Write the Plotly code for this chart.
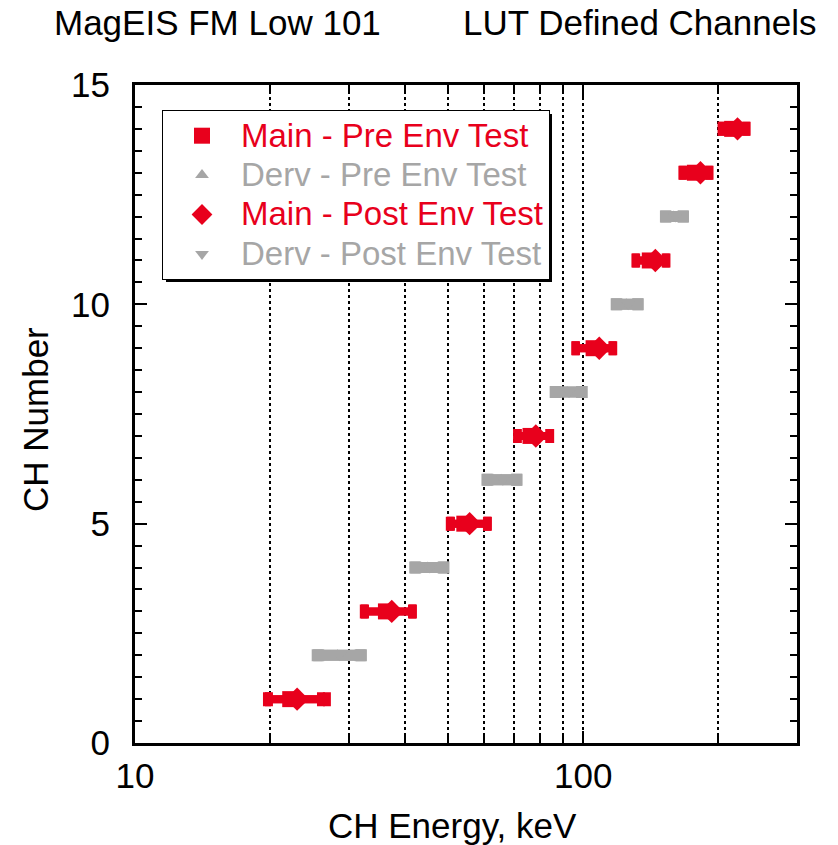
import math
import plotly.graph_objects as go

# Canvas and plot-area geometry (pixels)
W, H = 838, 845
ML, MR, MT, MB = 135, 41, 85, 102
PW, PH = W - ML - MR, H - MT - MB

RED = "#E8001C"
GRAY = "#A6A6A6"
FONT = "Liberation Sans, Arial, sans-serif"

# Main (odd + top) channels: centre energy and low/high edges, keV
main_ch = [1, 3, 5, 7, 9, 11, 13, 14]
main_pre_mid = [22.2, 36.3, 54.3, 76.3, 105.5, 140.8, 177.5, 215.0]
main_pre_lo = [19.7, 32.4, 50.4, 71.2, 96.0, 130.8, 166.5, 203.6]
main_pre_hi = [26.0, 41.7, 61.3, 84.4, 116.7, 153.4, 191.4, 231.6]
main_post_mid = [23.0, 37.4, 55.8, 78.4, 108.6, 144.9, 182.7, 221.0]
main_post_lo = [19.9, 32.6, 50.7, 71.5, 96.4, 131.3, 167.2, 204.5]
main_post_hi = [26.8, 41.5, 61.0, 84.0, 116.2, 152.8, 190.6, 230.8]

# Derived (even) channels
derv_ch = [2, 4, 6, 8, 10, 12]
derv_pre_mid = [28.3, 45.0, 65.6, 92.1, 124.8, 159.0]
derv_pre_lo = [25.5, 42.1, 61.0, 86.6, 118.5, 152.6]
derv_pre_hi = [32.0, 48.9, 71.2, 99.5, 132.7, 167.4]
derv_post_mid = [28.6, 45.5, 66.2, 93.0, 126.0, 160.6]
derv_post_lo = [25.7, 42.3, 61.3, 86.9, 118.9, 153.0]
derv_post_hi = [31.8, 48.7, 71.0, 99.2, 132.3, 167.0]


def span(mid, lo, hi):
    return dict(
        type="data",
        symmetric=False,
        array=[h - m for m, h in zip(mid, hi)],
        arrayminus=[m - l for m, l in zip(mid, lo)],
    )


def px(x):
    return (x - ML) / PW


def py(y):
    return (H - MB - y) / PH


def coloured(text, colour):
    return f"<span style='color:{colour};font-size:33px'>{text}</span>"


fig = go.Figure()

fig.add_trace(go.Scatter(
    x=main_pre_mid, y=main_ch, mode="markers",
    name=coloured("Main - Pre Env Test", RED),
    marker=dict(symbol="square", size=16, color=RED, line=dict(width=0)),
    error_x=dict(**span(main_pre_mid, main_pre_lo, main_pre_hi),
                 color=RED, thickness=8, width=7),
))
fig.add_trace(go.Scatter(
    x=derv_pre_mid, y=derv_ch, mode="markers",
    name=coloured("Derv - Pre Env Test", GRAY),
    marker=dict(symbol="triangle-up", size=12, color=GRAY, line=dict(width=0)),
    error_x=dict(**span(derv_pre_mid, derv_pre_lo, derv_pre_hi),
                 color=GRAY, thickness=11, width=6),
))
fig.add_trace(go.Scatter(
    x=main_post_mid, y=main_ch, mode="markers",
    name=coloured("Main - Post Env Test", RED),
    marker=dict(symbol="diamond", size=18, color=RED, line=dict(width=0)),
    error_x=dict(**span(main_post_mid, main_post_lo, main_post_hi),
                 color=RED, thickness=8, width=7),
))
fig.add_trace(go.Scatter(
    x=derv_post_mid, y=derv_ch, mode="markers",
    name=coloured("Derv - Post Env Test", GRAY),
    marker=dict(symbol="triangle-down", size=12, color=GRAY, line=dict(width=0)),
    error_x=dict(**span(derv_post_mid, derv_post_lo, derv_post_hi),
                 color=GRAY, thickness=11, width=6),
))

axis_common = dict(
    showline=True, linecolor="black", linewidth=3, mirror="allticks",
    ticks="inside", tickcolor="black", tickwidth=2,
    tickfont=dict(family=FONT, size=35, color="black"),
    zeroline=False,
)

fig.update_xaxes(
    type="log", range=[1, math.log10(300)], dtick=1,
    ticklen=12, ticklabelstandoff=0,
    showgrid=True, gridcolor="black", gridwidth=2, griddash="dot",
    minor=dict(dtick="D1", ticks="inside", ticklen=8, tickwidth=1.5, tickcolor="black",
               showgrid=True, gridcolor="black", gridwidth=2, griddash="dot"),
    **axis_common,
)
fig.update_yaxes(
    range=[0, 15], dtick=5, ticklen=12, ticklabelstandoff=15,
    showgrid=False,
    minor=dict(dtick=0.5, ticks="inside", ticklen=7, tickwidth=2, tickcolor="black",
               showgrid=False),
    **axis_common,
)

# Legend box with a drop shadow behind it
LEG_X0, LEG_Y0, LEG_W, LEG_H = 162, 110, 386, 168
fig.add_shape(type="rect", xref="paper", yref="paper", layer="above",
              x0=px(LEG_X0 + 4), x1=px(LEG_X0 + LEG_W + 4),
              y0=py(LEG_Y0 + LEG_H + 4), y1=py(LEG_Y0 + 4),
              fillcolor="black", line=dict(width=0))

annotations = [
    dict(text="MagEIS FM Low 101", x=px(52), y=py(22), xanchor="left", yanchor="middle"),
    dict(text="LUT Defined Channels", x=px(818), y=py(22), xanchor="right", yanchor="middle"),
    dict(text="CH Energy, keV", x=px(452), y=py(825), xanchor="center", yanchor="middle"),
    dict(text="CH Number", x=px(35), y=py(420), xanchor="center", yanchor="middle", textangle=-90),
]
for a in annotations:
    fig.add_annotation(xref="paper", yref="paper", showarrow=False,
                       font=dict(family=FONT, size=35, color="black"), **a)

fig.update_layout(
    width=W, height=H,
    margin=dict(l=ML, r=MR, t=MT, b=MB, pad=0),
    paper_bgcolor="white", plot_bgcolor="white",
    showlegend=True,
    legend=dict(
        x=px(LEG_X0), y=py(LEG_Y0), xanchor="left", yanchor="top",
        bgcolor="white", bordercolor="black", borderwidth=1,
        font=dict(family=FONT, size=28),
        itemwidth=68, tracegroupgap=0,
    ),
)

fig.write_html("out.html")
